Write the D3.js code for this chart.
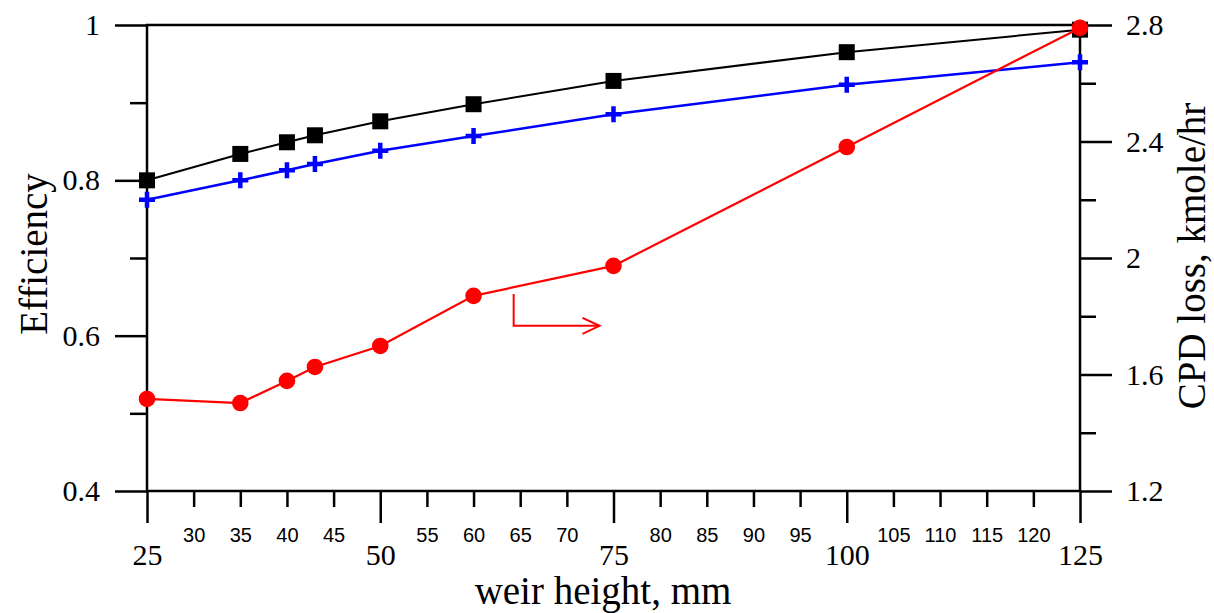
<!DOCTYPE html>
<head>
<meta charset="utf-8">
<title>Efficiency and CPD loss vs weir height</title>
<script src="https://cdn.jsdelivr.net/npm/d3@7"></script>
<style>
	body { margin: 0; background: #fff; }
	.axis path { display: none; }
	.axis line { stroke: #000; stroke-width: 2.5; }
	.major text { font: 30px "Liberation Serif", serif; fill: #000; }
	.minor text { font: 20px "Liberation Sans", sans-serif; fill: #000; }
	.title { font: 39px "Liberation Serif", serif; fill: #000; }
</style>
</head>
<body>
<script>
var width = 1214;
var height = 613;
var margin = {top: 25, bottom: 122, left: 147, right: 134};

// data
var weir = [25, 35, 40, 43, 50, 60, 75, 100, 125];
var effBlack = [0.800, 0.834, 0.849, 0.858, 0.876, 0.898, 0.928, 0.965, 0.994];
var effBlue = [0.775, 0.800, 0.813, 0.821, 0.838, 0.857, 0.885, 0.923, 0.952];
var cpdLoss = [1.516, 1.502, 1.578, 1.626, 1.698, 1.870, 1.973, 2.381, 2.790];

// ticks
var xMajor = [25, 50, 75, 100, 125];
var xMinor = [30, 35, 40, 45, 55, 60, 65, 70, 80, 85, 90, 95, 105, 110, 115, 120];
var leftMajor = [0.4, 0.6, 0.8, 1];
var leftMinor = [0.5, 0.7, 0.9];
var rightMajor = [1.2, 1.6, 2, 2.4, 2.8];
var rightMinor = [1.4, 1.8, 2.2, 2.6];

// arrow pointing to right axis (x in mm, y in kmole/hr)
var arrowX = [64.3, 64.3, 73.5];
var arrowY = [1.876, 1.767, 1.767];

var svg = d3.select('body').append('svg')
	.attr('width', width)
	.attr('height', height);

var x = d3.scaleLinear().domain([25, 125]).range([margin.left, width - margin.right]);
var yL = d3.scaleLinear().domain([0.4, 1]).range([height - margin.bottom, margin.top]);
var yR = d3.scaleLinear().domain([1.2, 2.8]).range([height - margin.bottom, margin.top]);

var x0 = margin.left, x1 = width - margin.right;
var y0 = height - margin.bottom, y1 = margin.top;

// bottom axis
svg.append('g').attr('class', 'axis minor')
	.attr('transform', 'translate(0,' + y0 + ')')
	.call(d3.axisBottom(x).tickValues(xMinor).tickSize(16).tickSizeOuter(0))
	.selectAll('text').attr('y', 51).attr('dy', 0);
svg.append('g').attr('class', 'axis major')
	.attr('transform', 'translate(0,' + y0 + ')')
	.call(d3.axisBottom(x).tickValues(xMajor).tickSize(32).tickSizeOuter(0))
	.selectAll('text').attr('y', 74).attr('dy', 0);

// left axis
svg.append('g').attr('class', 'axis minor')
	.attr('transform', 'translate(' + x0 + ',0)')
	.call(d3.axisLeft(yL).tickValues(leftMinor).tickSize(17).tickFormat(''));
svg.append('g').attr('class', 'axis major')
	.attr('transform', 'translate(' + x0 + ',0)')
	.call(d3.axisLeft(yL).tickValues(leftMajor).tickSize(32).tickPadding(15).tickFormat(d3.format('')));

// right axis
svg.append('g').attr('class', 'axis minor')
	.attr('transform', 'translate(' + x1 + ',0)')
	.call(d3.axisRight(yR).tickValues(rightMinor).tickSize(16).tickFormat(''));
svg.append('g').attr('class', 'axis major')
	.attr('transform', 'translate(' + x1 + ',0)')
	.call(d3.axisRight(yR).tickValues(rightMajor).tickSize(32).tickPadding(14).tickFormat(d3.format('')));

// frame
svg.append('rect')
	.attr('x', x0).attr('y', y1)
	.attr('width', x1 - x0).attr('height', y0 - y1)
	.style('fill', 'none').style('stroke', '#000').style('stroke-width', 2.5);

var lineL = d3.line().x(function(d) { return x(d[0]); }).y(function(d) { return yL(d[1]); });
var lineR = d3.line().x(function(d) { return x(d[0]); }).y(function(d) { return yR(d[1]); });

var black = weir.map(function(w, i) { return [w, effBlack[i]]; });
var blue = weir.map(function(w, i) { return [w, effBlue[i]]; });
var red = weir.map(function(w, i) { return [w, cpdLoss[i]]; });

// black series: squares
svg.append('path').datum(black).attr('d', lineL)
	.style('fill', 'none').style('stroke', '#000').style('stroke-width', 2);
svg.selectAll('.sq').data(black).enter().append('rect')
	.attr('x', function(d) { return x(d[0]) - 8; })
	.attr('y', function(d) { return yL(d[1]) - 8; })
	.attr('width', 16).attr('height', 16)
	.style('fill', '#000');

// blue series: plus signs
svg.append('path').datum(blue).attr('d', lineL)
	.style('fill', 'none').style('stroke', '#0000ff').style('stroke-width', 2.5);
svg.selectAll('.plus').data(blue).enter().append('path')
	.attr('d', function(d) {
		var cx = x(d[0]), cy = yL(d[1]);
		return 'M' + (cx - 8) + ',' + cy + 'H' + (cx + 8) + 'M' + cx + ',' + (cy - 8) + 'V' + (cy + 8);
	})
	.style('stroke', '#0000ff').style('stroke-width', 4.5);

// red series: circles (right axis)
svg.append('path').datum(red).attr('d', lineR)
	.style('fill', 'none').style('stroke', '#ff0000').style('stroke-width', 2.2);
svg.selectAll('.dot').data(red).enter().append('circle')
	.attr('cx', function(d) { return x(d[0]); })
	.attr('cy', function(d) { return yR(d[1]); })
	.attr('r', 8.3)
	.style('fill', '#ff0000');

// arrow
var arrow = arrowX.map(function(a, i) { return [a, arrowY[i]]; });
svg.append('path').datum(arrow).attr('d', lineR)
	.style('fill', 'none').style('stroke', '#ff0000').style('stroke-width', 2);
var tip = arrow[2];
svg.append('path')
	.attr('d', 'M' + (x(tip[0]) - 17) + ',' + (yR(tip[1]) - 8) + 'L' + x(tip[0]) + ',' + yR(tip[1]) +
		'L' + (x(tip[0]) - 17) + ',' + (yR(tip[1]) + 8))
	.style('fill', 'none').style('stroke', '#ff0000').style('stroke-width', 2);

// titles
svg.append('text').attr('class', 'title')
	.attr('x', 603).attr('y', 604)
	.attr('text-anchor', 'middle')
	.text('weir height, mm');
svg.append('text').attr('class', 'title')
	.attr('transform', 'translate(47,254) rotate(-90)')
	.attr('text-anchor', 'middle')
	.text('Efficiency');
svg.append('text').attr('class', 'title')
	.attr('transform', 'translate(1205,256) rotate(-90)')
	.attr('text-anchor', 'middle')
	.text('CPD loss, kmole/hr');
</script>
</body>
